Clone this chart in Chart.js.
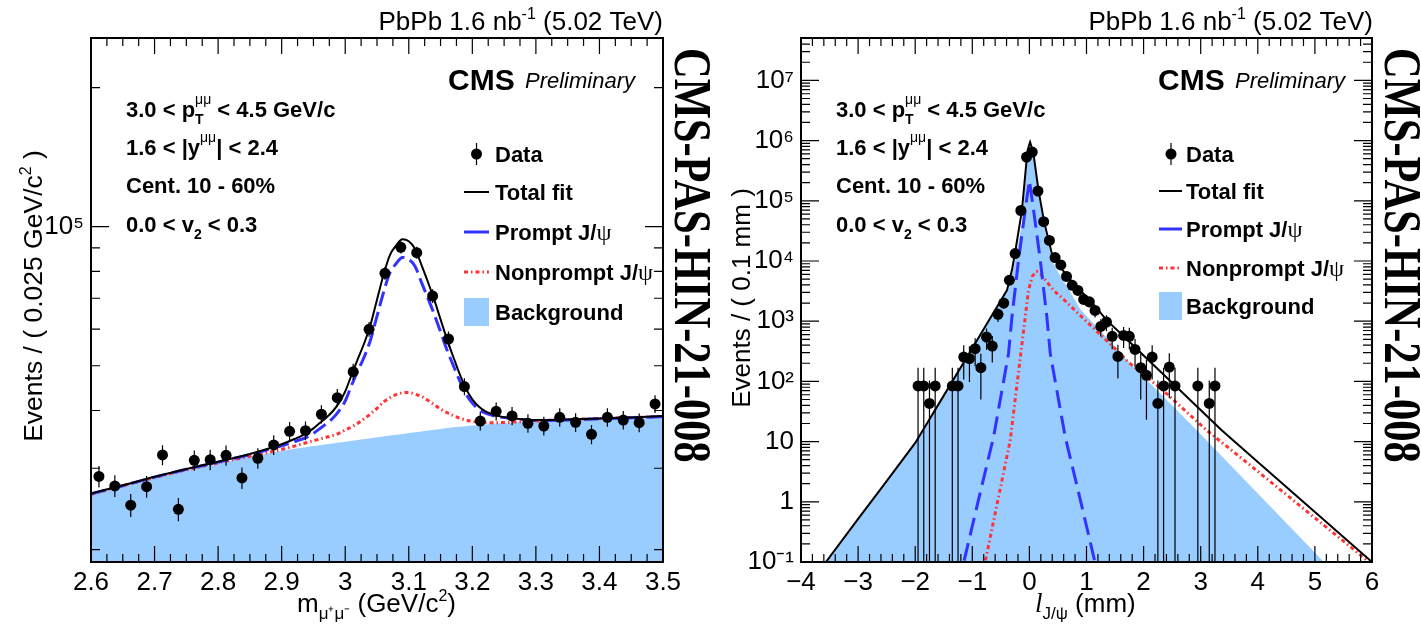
<!DOCTYPE html>
<html><head><meta charset="utf-8">
<script src="https://cdn.jsdelivr.net/npm/chart.js@4.4.1/dist/chart.umd.min.js"></script>
<style>html,body{margin:0;padding:0;background:#fff;}#wrap{position:relative;width:1421px;height:630px;overflow:hidden;background:#fff;}canvas{position:absolute;top:0;}</style>
</head><body><div id="wrap"><canvas id="cL" width="710" height="630" style="left:0px"></canvas><canvas id="cR" width="711" height="630" style="left:710px"></canvas></div>
<script>
const SANS='"Liberation Sans", Arial, Helvetica, sans-serif';
const SERIF='"Liberation Serif", "Times New Roman", serif';

// ===== Left panel: invariant mass =====
const massBinCenters=[2.6125,2.6375,2.6625,2.6875,2.7125,2.7375,2.7625,2.7875,2.8125,2.8375,2.8625,2.8875,2.9125,2.9375,2.9625,2.9875,3.0125,3.0375,3.0625,3.0875,3.1125,3.1375,3.1625,3.1875,3.2125,3.2375,3.2625,3.2875,3.3125,3.3375,3.3625,3.3875,3.4125,3.4375,3.4625,3.4875];
const massEvents=[28800,27470,24950,27370,32050,24450,31200,31300,32000,28580,31530,33700,36060,36180,39260,42650,48550,59970,79260,90240,87860,70790,57130,45060,37960,39850,38930,37530,37030,38670,37710,35530,38670,38150,37640,41330];
const massErrors=[1530,1490,1420,1490,1610,1410,1590,1590,1610,1520,1600,1650,1710,1710,1780,1860,1980,2200,2530,2700,2670,2390,2150,1910,1750,1800,1780,1740,1730,1770,1750,1700,1770,1760,1750,1830];
const massGrid=[2.60,2.65,2.70,2.75,2.80,2.85,2.90,2.92,2.94,2.95,2.96,2.97,2.98,2.99,3.00,3.01,3.02,3.03,3.04,3.05,3.06,3.07,3.08,3.09,3.10,3.11,3.12,3.13,3.14,3.15,3.16,3.17,3.18,3.19,3.20,3.21,3.22,3.23,3.24,3.26,3.28,3.30,3.35,3.40,3.45,3.50];
const massTotalFit=[26450,27550,28750,29900,31000,32200,33800,34700,35800,36600,37600,38600,39800,41500,44000,47800,51800,56000,61500,69500,78400,86600,91000,93900,93000,89500,82600,76000,69500,63000,57100,52300,48000,44600,42300,40800,39900,39350,38950,38550,38300,38150,38250,38450,38650,38900];
const massPrompt=[26400,27500,28700,29840,30930,32100,33550,34250,35050,35700,36550,37400,38450,39900,41950,45350,48800,52300,57000,64050,71850,79300,83150,85800,85000,82000,75750,70100,64650,59200,54150,50100,46400,43450,41500,40250,39520,39100,38800,38450,38220,38070,38170,38370,38570,38820];
const massNonprompt=[26350,27500,28650,29760,30820,31850,32950,33500,34100,34400,34700,35000,35300,35700,36300,36850,37550,38400,39350,40450,41700,42600,43300,43700,43750,43400,42900,42100,41200,40300,39600,39000,38500,38150,37900,37750,37680,37650,37650,37750,37880,37980,38230,38430,38630,38830];
const massBackground=[26300,27450,28600,29700,30750,31750,32700,33050,33350,33500,33650,33800,33950,34100,34250,34400,34550,34700,34850,35000,35150,35300,35450,35600,35750,35900,36050,36200,36350,36500,36650,36800,36900,37000,37100,37200,37300,37400,37500,37650,37800,37900,38150,38350,38550,38750];
const massXTicks=[2.6,2.7,2.8,2.9,3.0,3.1,3.2,3.3,3.4,3.5];
const massYTicks=[1e5];

// ===== Right panel: pseudo-proper decay length =====
const lifeBinCenters=[-1.95,-1.85,-1.75,-1.65,-1.35,-1.25,-1.15,-1.05,-0.95,-0.85,-0.75,-0.65,-0.55,-0.45,-0.35,-0.25,-0.15,-0.05,0.05,0.15,0.25,0.35,0.45,0.55,0.65,0.75,0.85,0.95,1.05,1.15,1.25,1.35,1.45,1.55,1.65,1.75,1.85,1.95,2.05,2.15,2.25,2.35,2.45,2.55,2.95,3.15,3.25];
const lifeEvents=[84,84,43,84,84,84,254,240,349,169,545,386,1300,2000,4800,13300,69000,532000,644000,145000,45000,22000,11400,8600,5550,3940,3250,2300,2100,1510,820,966,560,260,581,560,340,169,126,254,43,84,173,84,84,43,84];
const lifeErrors=[84,84,60,84,84,84,146,142,171,119,214,180,330,409,634,1055,2400,6670,7340,3480,1940,1357,977,849,682,574,522,439,419,356,262,284,217,148,221,217,169,119,103,146,60,84,120,84,84,60,84];
const lifeTotalX=[-4,-3.564,-3,-2.5,-2,-1.5,-1,-0.75,-0.5,-0.394,-0.35,-0.3,-0.249,-0.2,-0.131,-0.08,-0.033,0.012,0.04,0.072,0.1,0.159,0.2,0.259,0.3,0.394,0.45,0.539,0.65,0.772,1.064,1.356,1.706,2.0,2.5,3.368,4,5,6];
const lifeTotalY=[0.028,0.1,0.52,2.2,9.5,58,356,887,2210,3250,4700,7500,14100,27300,69300,229000,687000,944000,774000,605000,385000,149000,90600,44300,30600,13200,10800,7940,5860,4200,2220,1030,500,270,95,15.4,4.6,0.68,0.1];
const lifePromptX=[-1.25,-1.148,-0.9,-0.628,-0.5,-0.366,-0.306,-0.191,-0.074,0,0.074,0.191,0.306,0.366,0.5,0.628,0.9,1.148,1.25];
const lifePromptY=[0.04,0.1,1.0,11.9,56,288,1170,10200,69300,218000,69300,10200,1170,288,56,11.9,1.0,0.1,0.04];
const lifeNonpromptX=[-0.85,-0.775,-0.6,-0.5,-0.336,-0.2,-0.1,-0.016,0.05,0.131,0.2,0.3,0.422,0.6,0.889,1.472,1.734,2.34,3.106,4,5,5.95,6.05];
const lifeNonpromptY=[0.045,0.1,0.64,1.84,10.5,120,721,3250,5600,6700,6000,4600,3250,2300,1250,371,209,71,15.4,3.2,0.54,0.1,0.084];
const lifeBkgX=[-4,-3.564,-3,-2.5,-2,-1.5,-1,-0.75,-0.5,-0.394,-0.35,-0.3,-0.249,-0.2,-0.131,-0.08,-0.033,0.012,0.04,0.072,0.1,0.159,0.2,0.259,0.3,0.422,0.539,0.656,0.889,1.764,2.931,5.158,6];
const lifeBkgY=[0.028,0.1,0.52,2.2,9.5,58,356,885,2180,3040,4265,6130,10570,18480,41600,165000,553000,758000,652000,527000,333000,125000,76000,36300,24700,9000,5700,3800,1600,200,15.4,0.1,0.0152];
const lifeXTicks=[-4,-3,-2,-1,0,1,2,3,4,5,6];
const lifeYTicks=[0.1,1,10,100,1e3,1e4,1e5,1e6,1e7];

// ===== helpers =====
const pts=(xs,ys)=>xs.map((x,i)=>({x:x,y:ys[i]}));
const SUP={'0':'⁰','1':'¹','2':'²','3':'³','4':'⁴','5':'⁵','6':'⁶','7':'⁷','8':'⁸','9':'⁹','-':'⁻'};
function powLabel(v){const e=Math.round(Math.log10(v));if(e===0)return '1';if(e===1)return '10';return '10'+String(e).split('').map(c=>SUP[c]).join('');}
function rich(ctx,x,y,parts,align){
  let cx=0,prevStart=0,prevW=0;const items=[];
  for(const p of parts){ctx.font=p.f;const w=ctx.measureText(p.t).width;let sx;
    if(p.back){sx=prevStart;const m=Math.max(prevW,w);cx=prevStart+m;prevW=m;}else{sx=cx;cx+=w;prevW=w;}
    prevStart=sx;items.push({p:p,sx:sx});}
  const x0=align==='right'?x-cx:align==='center'?x-cx/2:x;
  ctx.textBaseline='alphabetic';ctx.textAlign='left';
  for(const it of items){ctx.font=it.p.f;ctx.fillStyle=it.p.c||'#000';ctx.fillText(it.p.t,x0+it.sx,y+(it.p.dy||0));}
}
function frameTicks(chart,xMinor,xMajor){
  const ctx=chart.ctx,a=chart.chartArea,xs=chart.scales.x,ys=chart.scales.y;
  ctx.save();ctx.strokeStyle='#000';ctx.lineWidth=1.2;ctx.beginPath();
  const n=Math.round((xs.max-xs.min)/xMinor);
  for(let i=0;i<=n;i++){const v=xs.min+i*xMinor;const r=(v-xs.min)/xMajor;const major=Math.abs(r-Math.round(r))<1e-6;
    const L=major?16:8;const px=xs.getPixelForValue(v);
    ctx.moveTo(px,a.bottom);ctx.lineTo(px,a.bottom-L);ctx.moveTo(px,a.top);ctx.lineTo(px,a.top+L);}
  const e0=Math.floor(Math.log10(ys.min)),e1=Math.ceil(Math.log10(ys.max));
  for(let e=e0;e<=e1;e++)for(let m=1;m<=9;m++){const v=m*Math.pow(10,e);if(v<ys.min*0.9999||v>ys.max*1.0001)continue;
    const L=m===1?18:9;const py=ys.getPixelForValue(v);
    ctx.moveTo(a.left,py);ctx.lineTo(a.left+L,py);ctx.moveTo(a.right,py);ctx.lineTo(a.right-L,py);}
  ctx.stroke();ctx.lineWidth=2;ctx.strokeRect(a.left,a.top,a.right-a.left,a.bottom-a.top);ctx.restore();
}
function errBars(chart,xsA,ysA,esA){
  const ctx=chart.ctx,a=chart.chartArea,xs=chart.scales.x,ys=chart.scales.y;
  ctx.save();ctx.beginPath();ctx.rect(a.left,a.top,a.right-a.left,a.bottom-a.top);ctx.clip();
  ctx.strokeStyle='#000';ctx.lineWidth=1.2;ctx.beginPath();
  xsA.forEach((x,i)=>{const px=xs.getPixelForValue(x);const hi=ys.getPixelForValue(ysA[i]+esA[i]);const lv=ysA[i]-esA[i];
    const lo=lv>ys.min?ys.getPixelForValue(lv):a.bottom+5;ctx.moveTo(px,hi);ctx.lineTo(px,lo);});
  ctx.stroke();ctx.restore();
}
function hline(ctx,x0,x1,y,c,w,d){ctx.save();ctx.strokeStyle=c;ctx.lineWidth=w;ctx.setLineDash(d);ctx.beginPath();ctx.moveTo(x0,y);ctx.lineTo(x1,y);ctx.stroke();ctx.restore();}
function legend(ctx,L){
  const F='bold 22px '+SANS;
  let y=L.ys[0]-8;
  ctx.save();ctx.strokeStyle='#000';ctx.lineWidth=1.2;ctx.beginPath();ctx.moveTo(L.mx,y-11);ctx.lineTo(L.mx,y+11);ctx.stroke();
  ctx.fillStyle='#000';ctx.beginPath();ctx.arc(L.mx,y,5.5,0,2*Math.PI);ctx.fill();ctx.restore();
  hline(ctx,L.x0,L.x1,L.ys[1]-8,'#000',2,[]);
  hline(ctx,L.x0,L.x1,L.ys[2]-8,'#3333ff',3,[]);
  hline(ctx,L.x0,L.x1,L.ys[3]-8,'#ff3333',3,[4,3,1.5,3]);
  ctx.fillStyle='#99ccff';ctx.fillRect(L.x0,L.ys[4]-22,L.x1-L.x0,28);
  rich(ctx,L.tx,L.ys[0],[{t:'Data',f:F}]);
  rich(ctx,L.tx,L.ys[1],[{t:'Total fit',f:F}]);
  rich(ctx,L.tx,L.ys[2],[{t:'Prompt J/',f:F},{t:'ψ',f:'24px '+SERIF}]);
  rich(ctx,L.tx,L.ys[3],[{t:'Nonprompt J/',f:F},{t:'ψ',f:'24px '+SERIF}]);
  rich(ctx,L.tx,L.ys[4],[{t:'Background',f:F}]);
}
function common(ctx){
  const F26='26px '+SANS,F16='16px '+SANS,B22='bold 22px '+SANS,S14='14px '+SANS;
  rich(ctx,663,30,[{t:'PbPb 1.6 nb',f:F26},{t:'-1',f:F16,dy:-11},{t:' (5.02 TeV)',f:F26}],'right');
  rich(ctx,448,90,[{t:'CMS',f:'bold 30px '+SANS}]);
  rich(ctx,525,88,[{t:'Preliminary',f:'italic 22px '+SANS}]);
  rich(ctx,126,117,[{t:'3.0 < p',f:B22},{t:'T',f:'bold 14px '+SANS,dy:7},{t:'μμ',f:S14,dy:-13,back:true},{t:' < 4.5 GeV/c',f:B22}]);
  rich(ctx,126,155,[{t:'1.6 < |y',f:B22},{t:'μμ',f:S14,dy:-13},{t:'| < 2.4',f:B22}]);
  rich(ctx,126,193,[{t:'Cent. 10 - 60%',f:B22}]);
  rich(ctx,126,232,[{t:'0.0 < v',f:B22},{t:'2',f:'bold 14px '+SANS,dy:7},{t:' < 0.3',f:B22}]);
  ctx.save();ctx.translate(675,48);ctx.rotate(Math.PI/2);ctx.scale(1,1.22);
  ctx.font='bold 42.5px '+SERIF;ctx.fillStyle='#000';ctx.textBaseline='alphabetic';ctx.textAlign='left';
  ctx.fillText('CMS-PAS-HIN-21-008',0,0);ctx.restore();
}
function yTitle(ctx,bx,cy,parts){ctx.save();ctx.translate(bx,cy);ctx.rotate(-Math.PI/2);rich(ctx,0,0,parts,'center');ctx.restore();}

function baseOptions(cfg){
  return {responsive:false,animation:false,devicePixelRatio:1,
    layout:{padding:{left:0,right:cfg.padR,top:38,bottom:0}},
    plugins:{legend:{display:false},tooltip:{enabled:false}},
    scales:{
      x:{type:'linear',min:cfg.xmin,max:cfg.xmax,grid:{display:false,drawTicks:false},border:{display:false},
         afterBuildTicks:s=>{s.ticks=cfg.xticks.map(v=>({value:v}));},
         ticks:{autoSkip:false,maxRotation:0,padding:5,color:'#000',font:{family:SANS,size:26},callback:cfg.xlab},
         afterFit:s=>{s.height=68;}},
      y:{type:'logarithmic',min:cfg.ymin,max:cfg.ymax,grid:{display:false,drawTicks:false},border:{display:false},
         afterBuildTicks:s=>{s.ticks=cfg.yticks.map(v=>({value:v}));},
         ticks:{autoSkip:false,padding:7,color:'#000',font:{family:SANS,size:26},callback:v=>powLabel(v)},
         afterFit:s=>{s.width=91;}}
    }};
}
function ds(label,data,o){return Object.assign({label:label,data:data,pointRadius:0,borderWidth:0,fill:false,tension:0,clip:0},o);}

// ===== Left chart =====
new Chart(document.getElementById('cL'),{
  type:'line',
  data:{datasets:[
    ds('Data',pts(massBinCenters,massEvents),{showLine:false,pointRadius:5.5,pointBackgroundColor:'#000',pointBorderColor:'#000',pointBorderWidth:0,order:0,clip:false}),
    ds('Total fit',pts(massGrid,massTotalFit),{borderColor:'#000',borderWidth:2,cubicInterpolationMode:'monotone',order:1}),
    ds('Prompt J/ψ',pts(massGrid,massPrompt),{borderColor:'#3333ff',borderWidth:3,borderDash:[15,6],cubicInterpolationMode:'monotone',order:2}),
    ds('Nonprompt J/ψ',pts(massGrid,massNonprompt),{borderColor:'#ff3333',borderWidth:3,borderDash:[4,3,1.5,3],cubicInterpolationMode:'monotone',order:3}),
    ds('Background',pts(massGrid,massBackground),{borderColor:'rgba(0,0,0,0)',backgroundColor:'#99ccff',fill:'start',cubicInterpolationMode:'monotone',order:4})
  ]},
  options:baseOptions({padR:47,xmin:2.6,xmax:3.5,xticks:massXTicks,ymin:18800,ymax:256100,yticks:massYTicks,
    xlab:v=>String(Math.round(v*10)/10)}),
  plugins:[{id:'decoL',
    afterDatasetsDraw(c){errBars(c,massBinCenters,massEvents,massErrors);},
    afterDraw(c){const ctx=c.ctx;frameTicks(c,0.025,0.1);common(ctx);
      legend(ctx,{mx:476.5,x0:464,x1:489,tx:495,ys:[162,200,240,280,320]});
      rich(ctx,297,612,[{t:'m',f:'26px '+SANS},{t:'μ⁺μ⁻',f:'17px '+SANS,dy:7},{t:' (GeV/c',f:'26px '+SANS},{t:'2',f:'16px '+SANS,dy:-11},{t:')',f:'26px '+SANS}]);
      yTitle(ctx,42,296,[{t:'Events / ( 0.025 GeV/c',f:'26.5px '+SANS},{t:'2',f:'16px '+SANS,dy:-11},{t:' )',f:'26.5px '+SANS}]);
    }}]
});

// ===== Right chart =====
new Chart(document.getElementById('cR'),{
  type:'line',
  data:{datasets:[
    ds('Data',pts(lifeBinCenters,lifeEvents),{showLine:false,pointRadius:5.5,pointBackgroundColor:'#000',pointBorderColor:'#000',pointBorderWidth:0,order:0,clip:false}),
    ds('Total fit',pts(lifeTotalX,lifeTotalY),{borderColor:'#000',borderWidth:2,order:1}),
    ds('Prompt J/ψ',pts(lifePromptX,lifePromptY),{borderColor:'#3333ff',borderWidth:3,borderDash:[18,8],order:2}),
    ds('Nonprompt J/ψ',pts(lifeNonpromptX,lifeNonpromptY),{borderColor:'#ff3333',borderWidth:3,borderDash:[4,3,1.5,3],order:3}),
    ds('Background',pts(lifeBkgX,lifeBkgY),{borderColor:'rgba(0,0,0,0)',backgroundColor:'#99ccff',fill:'start',order:4})
  ]},
  options:baseOptions({padR:49,xmin:-4,xmax:6,xticks:lifeXTicks,ymin:0.1,ymax:5.06e7,yticks:lifeYTicks,
    xlab:v=>v<0?'−'+(-v):String(v)}),
  plugins:[{id:'decoR',
    afterDatasetsDraw(c){errBars(c,lifeBinCenters,lifeEvents,lifeErrors);},
    afterDraw(c){const ctx=c.ctx;frameTicks(c,0.2,1);common(ctx);
      legend(ctx,{mx:461,x0:449,x1:472,tx:476,ys:[162,199,237,276,314]});
      rich(ctx,325,612,[{t:'l',f:'italic 27px '+SERIF},{t:'J/ψ',f:'17px '+SANS,dy:7},{t:' (mm)',f:'26px '+SANS}]);
      yTitle(ctx,40,298,[{t:'Events / ( 0.1 mm )',f:'26px '+SANS}]);
    }}]
});
</script></body></html>
